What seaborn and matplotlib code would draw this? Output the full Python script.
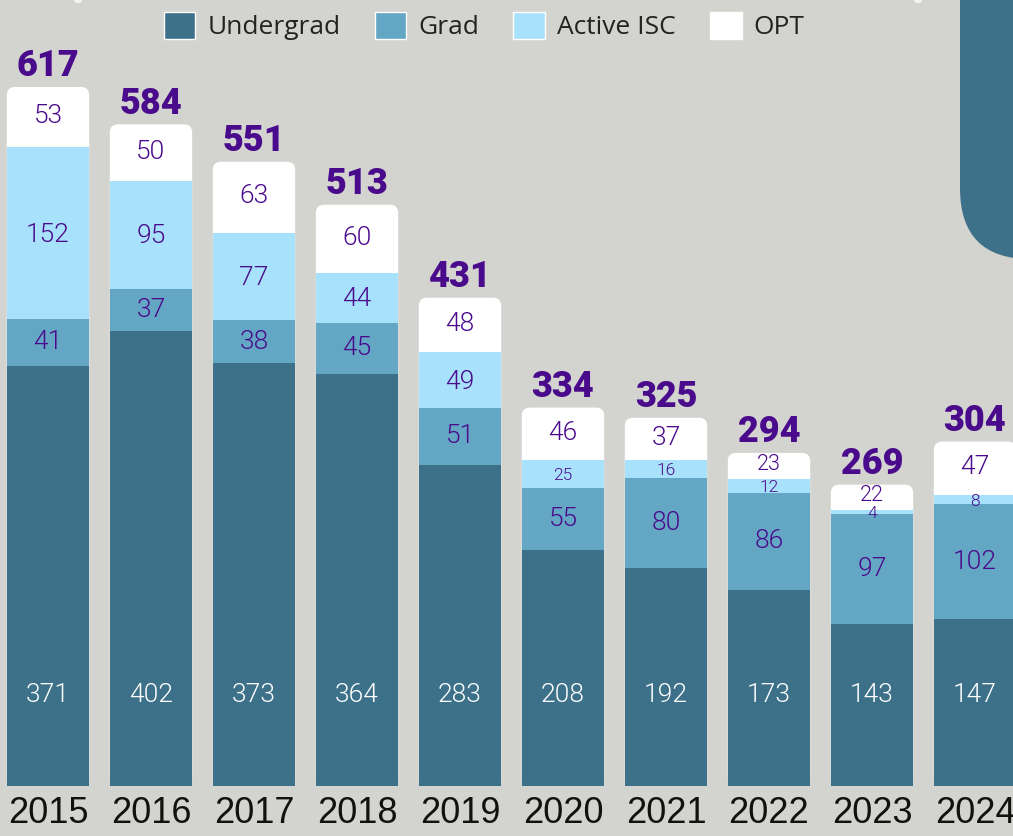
import numpy as np
import matplotlib
matplotlib.use("Agg")
import matplotlib.pyplot as plt
import seaborn as sns
from matplotlib.patches import FancyBboxPatch, Patch, Circle

years = ["2015", "2016", "2017", "2018", "2019", "2020", "2021", "2022", "2023", "2024"]
undergrad = [371, 402, 373, 364, 283, 208, 192, 173, 143, 147]
grad = [41, 37, 38, 45, 51, 55, 80, 86, 97, 102]
active_isc = [152, 95, 77, 44, 49, 25, 16, 12, 4, 8]
opt = [53, 50, 63, 60, 48, 46, 37, 23, 22, 47]
totals = [617, 584, 551, 513, 431, 334, 325, 294, 269, 304]

bg = "#d3d3cf"
c_ug = "#3d7189"
c_grad = "#64a7c4"
c_isc = "#a8e1fb"
c_opt = "#ffffff"
purple = "#4a0a8c"

sns.set_theme(style="white")
plt.rcParams["font.family"] = ["Roboto", "DejaVu Sans"]

fig = plt.figure(figsize=(10.13, 8.36), dpi=100, facecolor=bg)
# decorative shape top right
fig.patches.append(FancyBboxPatch((960 / 1013, 0.69), 0.2, 0.5, boxstyle="round,pad=0,rounding_size=0.07",
                                  mutation_aspect=1013 / 836, transform=fig.transFigure,
                                  facecolor=c_ug, edgecolor="none", zorder=0))
for xp in (78, 918):
    fig.patches.append(Circle((xp / 1013, 1.0), 0.004, transform=fig.transFigure,
                              facecolor="#f2f2f2", edgecolor="none", zorder=0))

ax = fig.add_axes([0, 50 / 836, 1, 786 / 836])
ax.set_facecolor("none")

ug = np.array(undergrad)
c2 = ug + np.array(grad)
c3 = c2 + np.array(active_isc)
c4 = c3 + np.array(opt)

layers = [(c4, c_opt), (c3, c_isc), (c2, c_grad), (ug, c_ug)]
for i, (vals, col) in enumerate(layers):
    n0 = len(ax.patches)
    sns.barplot(x=years, y=vals, color=col, saturation=1, width=0.8, ax=ax, linewidth=0)
    if i == 0:
        for p in list(ax.patches[n0:]):
            p.set_visible(False)
            ax.add_patch(FancyBboxPatch((p.get_x(), 0), p.get_width(), p.get_height(),
                                        boxstyle="round,pad=0,rounding_size=0.08",
                                        mutation_aspect=103 / 1.133,
                                        facecolor=c_opt, edgecolor="none", zorder=1))

ax.set_xlim(-48 / 103, (1013 - 48) / 103)
ax.set_ylim(0, 786 / 1.133)

lw = 300
x = np.arange(len(years))
for xi in x:
    ax.text(xi, 80, str(undergrad[xi]), ha="center", va="center", color="white",
            fontsize=19, fontweight=lw, zorder=5)
    ax.text(xi, ug[xi] + grad[xi] / 2, str(grad[xi]), ha="center", va="center", color=purple,
            fontsize=19, fontweight=lw, zorder=5)
    fs = 19 if active_isc[xi] >= 30 else 12.5
    ax.text(xi, c2[xi] + active_isc[xi] / 2 - 1.5, str(active_isc[xi]), ha="center", va="center",
            color=purple, fontsize=fs, fontweight=lw, zorder=5)
    fs = 19 if opt[xi] >= 30 else 15.5
    ax.text(xi, c3[xi] + opt[xi] / 2 + 1, str(opt[xi]), ha="center", va="center", color=purple,
            fontsize=fs, fontweight=lw, zorder=5)
    ax.annotate(str(totals[xi]), (xi, c4[xi]), xytext=(0, 2), textcoords="offset points",
                ha="center", va="bottom", color=purple, fontsize=26, fontweight="black", zorder=5)

sns.despine(ax=ax, left=True, bottom=True)
ax.set_yticks([])
ax.set_xlabel("")
ax.set_ylabel("")
ax.tick_params(axis="x", length=0, pad=7)
for lab in ax.get_xticklabels():
    lab.set_fontfamily(["Liberation Sans", "DejaVu Sans"])
    lab.set_fontsize(26)
    lab.set_color("#111111")

handles = [Patch(facecolor=c_ug, label="Undergrad"), Patch(facecolor=c_grad, label="Grad"),
           Patch(facecolor=c_isc, label="Active ISC"), Patch(facecolor=c_opt, label="OPT")]
leg = fig.legend(handles=handles, loc="center", bbox_to_anchor=(484 / 1013, 1 - 26 / 836), ncol=4,
                 frameon=False, prop={"family": ["Open Sans", "DejaVu Sans"], "size": 19},
                 handlelength=1.2, handleheight=1.2,
                 handletextpad=0.45, columnspacing=1.3, borderpad=0)
for t in leg.get_texts():
    t.set_color("#222222")

fig.savefig("out.png", dpi=100, facecolor=bg)
